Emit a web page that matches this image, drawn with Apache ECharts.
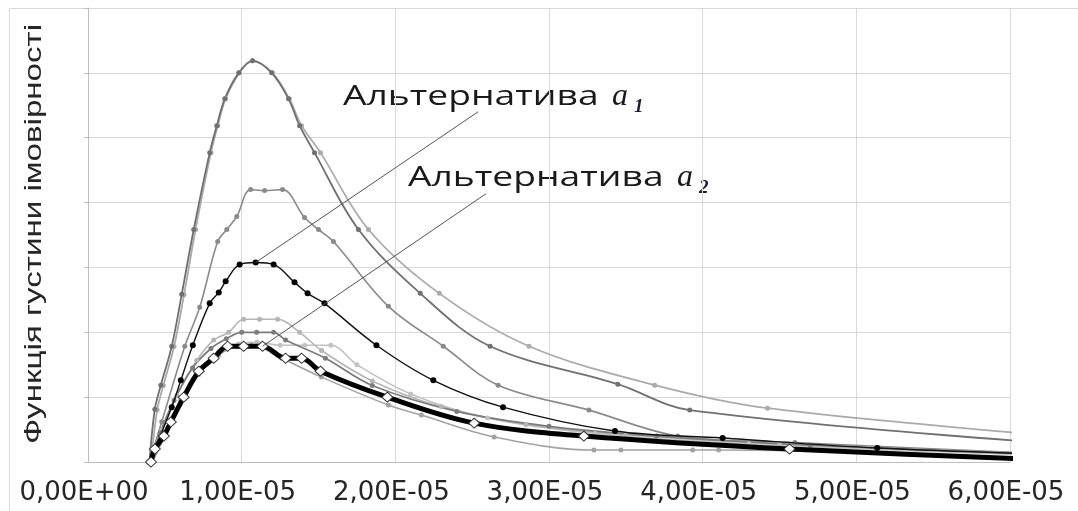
<!DOCTYPE html>
<html>
<head>
<meta charset="utf-8">
<script src="https://cdn.jsdelivr.net/npm/echarts@6/dist/echarts.min.js"></script>
<style>html,body{margin:0;padding:0;background:#fff}#c{width:1078px;height:511px}</style>
</head>
<body>
<div id="c"></div>
<script>
// ---- tick labels ----
const X_TICK_LABELS = ['0,00E+00','1,00E-05','2,00E-05','3,00E-05','4,00E-05','5,00E-05','6,00E-05'];
const Y_TITLE = 'Функція густини імовірності';
const ALT1 = 'Альтернатива';
const ALT2 = 'Альтернатива';

// ---- series values (x, y density in arbitrary units) ----
const A1_X = [0.40e-5,0.435e-5,0.474e-5,0.545e-5,0.61e-5,0.688e-5,0.792e-5,0.838e-5,0.89e-5,0.981e-5,1.071e-5,1.195e-5,1.305e-5,1.377e-5,1.474e-5,1.76e-5,2.162e-5,2.617e-5,3.448e-5,3.916e-5,6.5e-5];
const A1_Y = [0,0.815,1.185,1.785,2.585,3.585,4.77,5.185,5.6,6.0,6.185,6.0,5.6,5.185,4.77,3.585,2.6,1.785,1.2,0.8,0.25];

const A2_X = [0.41e-5,0.45e-5,0.49e-5,0.56e-5,0.625e-5,0.70e-5,0.80e-5,0.845e-5,0.895e-5,0.985e-5,1.07e-5,1.20e-5,1.31e-5,1.39e-5,1.513e-5,1.825e-5,2.286e-5,2.87e-5,3.688e-5,4.422e-5,6.5e-5];
const A2_Y = [0,0.8,1.18,1.78,2.58,3.585,4.77,5.185,5.6,6.0,6.185,6.0,5.6,5.185,4.77,3.585,2.6,1.785,1.185,0.83,0.36];

const B_X = [0.40e-5,0.48e-5,0.63e-5,0.727e-5,0.844e-5,0.903e-5,0.968e-5,1.058e-5,1.149e-5,1.266e-5,1.409e-5,1.5e-5,1.597e-5,1.955e-5,2.312e-5,2.669e-5,3.26e-5,3.838e-5,4.6e-5,6.5e-5];
const B_Y = [0,0.62,1.785,2.385,3.4,3.585,3.785,4.2,4.185,4.2,3.77,3.585,3.4,2.4,1.785,1.185,0.8,0.4,0.3,0.1];

const C_X = [0.40e-5,0.545e-5,0.604e-5,0.682e-5,0.792e-5,0.851e-5,0.896e-5,0.987e-5,1.091e-5,1.208e-5,1.344e-5,1.429e-5,1.539e-5,1.877e-5,2.247e-5,2.701e-5,3.429e-5,4.13e-5,5.136e-5,6.5e-5];
const C_Y = [0,0.846,1.26,1.8,2.446,2.615,2.785,3.046,3.077,3.046,2.77,2.6,2.446,1.8,1.26,0.846,0.477,0.369,0.215,0.1];

const D1_X = [0.415e-5,0.48e-5,0.578e-5,0.708e-5,0.818e-5,0.916e-5,1.013e-5,1.117e-5,1.234e-5,1.377e-5,1.52e-5,1.85e-5,2.3e-5,2.85e-5,3.5e-5,4.5e-5,6.5e-5];
const D1_Y = [0,0.49,1.03,1.57,1.88,2.0,2.2,2.2,2.2,2.0,1.72,1.25,0.85,0.58,0.42,0.28,0.1];

const D2_X = [0.41e-5,0.47e-5,0.56e-5,0.68e-5,0.80e-5,0.90e-5,1.0e-5,1.097e-5,1.208e-5,1.286e-5,1.545e-5,1.85e-5,2.4e-5,3.0e-5,3.7e-5,4.7e-5,6.5e-5];
const D2_Y = [0,0.45,0.95,1.45,1.75,1.9,2.0,2.0,2.0,1.88,1.6,1.18,0.78,0.55,0.4,0.26,0.1];

const D3_X = [0.42e-5,0.5e-5,0.6e-5,0.72e-5,0.85e-5,0.98e-5,1.1e-5,1.25e-5,1.41e-5,1.58e-5,1.75e-5,2.1e-5,2.6e-5,3.3e-5,4.3e-5,6.5e-5];
const D3_Y = [0,0.45,0.95,1.4,1.7,1.82,1.85,1.8,1.8,1.8,1.5,1.05,0.68,0.44,0.28,0.08];

const F_X = [0.42e-5,0.5e-5,0.6e-5,0.72e-5,0.85e-5,0.97e-5,1.065e-5,1.26e-5,1.519e-5,1.955e-5,2.169e-5,2.643e-5,3.292e-5,3.468e-5,3.935e-5,4.104e-5,6.5e-5];
const F_Y = [0,0.4,0.9,1.35,1.65,1.78,1.8,1.6,1.31,0.877,0.723,0.385,0.185,0.185,0.185,0.185,0.0];

const E_X = [0.41e-5,0.435e-5,0.494e-5,0.539e-5,0.623e-5,0.721e-5,0.818e-5,0.909e-5,1.013e-5,1.136e-5,1.286e-5,1.39e-5,1.513e-5,1.948e-5,2.513e-5,3.227e-5,4.565e-5,6.5e-5];
const E_Y = [0,0.2,0.4,0.615,1.0,1.4,1.6,1.785,1.785,1.785,1.6,1.6,1.4,1.0,0.6,0.4,0.2,0.01];

// leader lines of the annotations (data coordinates)
const LEADER1 = [[2.539e-5,5.4],[1.091e-5,3.077]];
const LEADER2 = [[2.591e-5,4.138],[1.136e-5,1.785]];

function zip(xs, ys){ return xs.map((x,i)=>[x, ys[i]]); }

function grayLine(name, xs, ys, color, width, symSize){
  return {
    name, type:'line', data: zip(xs, ys), smooth: 0.35,
    symbol:'circle', symbolSize: symSize, showSymbol:true,
    lineStyle:{color, width}, itemStyle:{color, borderWidth:0},
    clip:true, z:2, emphasis:{disabled:true}
  };
}

const chart = echarts.init(document.getElementById('c'), null, {renderer:'canvas'});
chart.setOption({
  animation:false,
  backgroundColor:'#ffffff',
  grid:{left:88, right:68, top:8, bottom:49, containLabel:false},
  xAxis:{
    type:'value', min:0, max:6e-5, interval:1e-5,
    axisLine:{show:true, lineStyle:{color:'#bfbfbf', width:1}},
    axisTick:{show:false},
    splitLine:{show:true, lineStyle:{color:'#d9d9d9', width:1}},
    axisLabel:{
      formatter:(v)=>X_TICK_LABELS[Math.round(v/1e-5)],
      fontFamily:'DejaVu Sans', fontSize:26, color:'#262626', margin:18,
      padding:[0,8,0,0]
    }
  },
  yAxis:{
    type:'value', min:0, max:7, interval:1,
    axisLine:{show:true, lineStyle:{color:'#bfbfbf', width:1}},
    axisTick:{show:true, inside:false, length:4, lineStyle:{color:'#bfbfbf'}},
    splitLine:{show:true, lineStyle:{color:'#d9d9d9', width:1}},
    axisLabel:{show:false}
  },
  series:[
    grayLine('A2', A2_X, A2_Y, '#ababab', 1.8, 5),
    grayLine('A1', A1_X, A1_Y, '#707070', 1.8, 5),
    grayLine('B', B_X, B_Y, '#8a8a8a', 1.6, 5),
    grayLine('D3', D3_X, D3_Y, '#c2c2c2', 1.6, 5),
    grayLine('D1', D1_X, D1_Y, '#b5b5b5', 1.6, 5),
    grayLine('F', F_X, F_Y, '#a3a3a3', 1.6, 5),
    grayLine('D2', D2_X, D2_Y, '#7c7c7c', 1.8, 5),
    {
      name:'C', type:'line', data: zip(C_X, C_Y), smooth:0.35,
      symbol:'circle', symbolSize:6, lineStyle:{color:'#111111', width:1.4},
      itemStyle:{color:'#000000'}, z:3, emphasis:{disabled:true}
    },
    {
      name:'E', type:'line', data: zip(E_X, E_Y), smooth:0.35,
      symbol:'diamond', symbolSize:[11,10], lineStyle:{color:'#000000', width:5},
      itemStyle:{color:'#ffffff', borderColor:'#333333', borderWidth:1}, z:4, emphasis:{disabled:true}
    },
    {
      name:'L1', type:'line', data: LEADER1, smooth:false, symbol:'none',
      lineStyle:{color:'#555555', width:1}, z:5, silent:true
    },
    {
      name:'L2', type:'line', data: LEADER2, smooth:false, symbol:'none',
      lineStyle:{color:'#555555', width:1}, z:5, silent:true
    }
  ],
  graphic:[
    {type:'rect', shape:{x:9.5, y:8.5, width:1200, height:600}, style:{fill:'none', stroke:'#d9d9d9', lineWidth:1}, z:-1, silent:true},
    {type:'text', x:34, y:234, rotation:Math.PI/2, scaleX:1.38, style:{text:Y_TITLE, fontFamily:'Liberation Sans', fontSize:24, fill:'#262626', align:'center', verticalAlign:'middle'}},
    {type:'text', x:343, y:97, scaleX:1.33, style:{text:ALT1, fontFamily:'Open Sans', fontSize:28, fill:'#1a1a1a', align:'left', verticalAlign:'middle'}},
    {type:'text', x:612, y:97, style:{text:'a', fontFamily:'Liberation Serif', fontStyle:'italic', fontSize:32, fill:'#1a1a1a', align:'left', verticalAlign:'middle'}},
    {type:'text', x:634, y:107, style:{text:'1', fontFamily:'Liberation Serif', fontStyle:'italic', fontWeight:'bold', fontSize:19, fill:'#1a1a3a', align:'left', verticalAlign:'middle'}},
    {type:'text', x:408, y:178, scaleX:1.33, style:{text:ALT2, fontFamily:'Open Sans', fontSize:28, fill:'#1a1a1a', align:'left', verticalAlign:'middle'}},
    {type:'text', x:677, y:178, style:{text:'a', fontFamily:'Liberation Serif', fontStyle:'italic', fontSize:32, fill:'#1a1a1a', align:'left', verticalAlign:'middle'}},
    {type:'text', x:699, y:188, style:{text:'2', fontFamily:'Liberation Serif', fontStyle:'italic', fontWeight:'bold', fontSize:19, fill:'#1a1a3a', align:'left', verticalAlign:'middle'}}
  ]
});
</script>
</body>
</html>
